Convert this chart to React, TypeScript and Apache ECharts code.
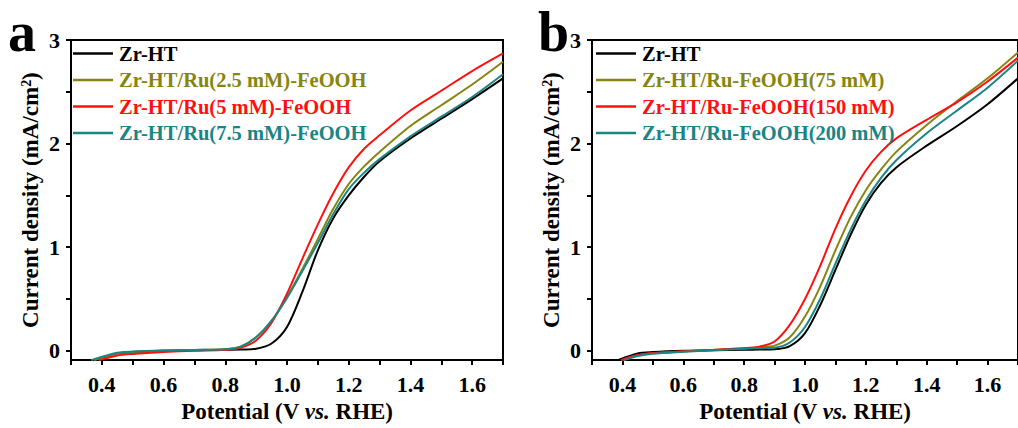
import React, { useEffect, useRef } from "react";
import * as echarts from "echarts";

// ---------- data ----------
const potentialGrid = [0.45, 0.5, 0.6, 0.7, 0.8, 0.85, 0.9, 0.95, 1.0, 1.05, 1.1, 1.15, 1.2, 1.25, 1.3, 1.4, 1.5, 1.6, 1.7];

// panel a
const namesA = ["Zr-HT", "Zr-HT/Ru(2.5 mM)-FeOOH", "Zr-HT/Ru(5 mM)-FeOOH", "Zr-HT/Ru(7.5 mM)-FeOOH"];
const startA = [0.372, 0.375, 0.39, 0.365];
const zrHtA = [-0.025, -0.012, 0, 0.005, 0.01, 0.012, 0.02, 0.07, 0.23, 0.57, 0.97, 1.28, 1.5, 1.68, 1.83, 2.05, 2.24, 2.43, 2.63];
const ru25A = [-0.025, -0.012, 0, 0.008, 0.015, 0.04, 0.13, 0.29, 0.52, 0.79, 1.08, 1.37, 1.61, 1.78, 1.92, 2.17, 2.37, 2.57, 2.79];
const ru5A = [-0.045, -0.03, -0.012, 0, 0.01, 0.03, 0.1, 0.27, 0.55, 0.89, 1.22, 1.52, 1.77, 1.95, 2.08, 2.32, 2.51, 2.7, 2.87];
const ru75A = [-0.02, -0.008, 0.002, 0.008, 0.015, 0.04, 0.13, 0.29, 0.51, 0.77, 1.04, 1.32, 1.56, 1.72, 1.85, 2.07, 2.26, 2.45, 2.67];

// panel b
const namesB = ["Zr-HT", "Zr-HT/Ru-FeOOH(75 mM)", "Zr-HT/Ru-FeOOH(150 mM)", "Zr-HT/Ru-FeOOH(200 mM)"];
const startB = [0.385, 0.4, 0.395, 0.405];
const zrHtB = [-0.025, -0.012, 0, 0.005, 0.01, 0.012, 0.015, 0.045, 0.17, 0.44, 0.78, 1.12, 1.41, 1.62, 1.77, 1.98, 2.17, 2.38, 2.63];
const fe75B = [-0.045, -0.025, -0.008, 0.008, 0.025, 0.035, 0.05, 0.13, 0.33, 0.62, 0.97, 1.29, 1.55, 1.75, 1.92, 2.18, 2.41, 2.63, 2.88];
const fe150B = [-0.04, -0.022, -0.005, 0.01, 0.025, 0.04, 0.09, 0.25, 0.5, 0.82, 1.18, 1.49, 1.74, 1.92, 2.05, 2.23, 2.4, 2.6, 2.83];
const fe200B = [-0.05, -0.028, -0.01, 0.005, 0.02, 0.025, 0.03, 0.08, 0.23, 0.5, 0.84, 1.17, 1.45, 1.67, 1.84, 2.1, 2.32, 2.54, 2.8];

const startCurrent = -0.09;
const colors = ["#000000", "#858510", "#ff1010", "#1a8585"];

const xTicks = [0.3, 0.4, 0.5, 0.6, 0.7, 0.8, 0.9, 1.0, 1.1, 1.2, 1.3, 1.4, 1.5, 1.6, 1.7];
const xLabels = [0.4, 0.6, 0.8, 1.0, 1.2, 1.4, 1.6];
const yTicks = [0, 0.5, 1, 1.5, 2, 2.5, 3];
const yLabels = [0, 1, 2, 3];

const FONT = "'Liberation Serif', 'Times New Roman', serif";

function pts(start: number, ys: number[]) {
  const out: number[][] = [[start, startCurrent]];
  potentialGrid.forEach((x, i) => out.push([x, ys[i]]));
  return out;
}

function xAxis(gridIndex: number) {
  return {
    type: "value",
    gridIndex,
    min: 0.3,
    max: 1.7,
    axisLine: { show: true, onZero: false, lineStyle: { color: "#000", width: 2 } },
    axisTick: { show: true, customValues: xTicks, length: 5, lineStyle: { color: "#000", width: 2 } },
    axisLabel: {
      customValues: xLabels,
      formatter: (v: number) => v.toFixed(1),
      color: "#000",
      fontFamily: FONT,
      fontWeight: "bold",
      fontSize: 22,
      margin: 13,
    },
    splitLine: { show: false },
    name: "Potential (V {it|vs.} RHE)",
    nameLocation: "middle",
    nameGap: 37,
    nameTextStyle: {
      color: "#000",
      fontFamily: FONT,
      fontWeight: "bold",
      fontSize: 23,
      rich: {
        it: { fontFamily: FONT, fontWeight: "bold", fontStyle: "italic", fontSize: 23, color: "#000" },
      },
    },
  };
}

function yAxis(gridIndex: number) {
  return {
    type: "value",
    gridIndex,
    min: -0.09,
    max: 3,
    axisLine: { show: true, onZero: false, lineStyle: { color: "#000", width: 2 } },
    axisTick: { show: true, customValues: yTicks, length: 5, lineStyle: { color: "#000", width: 2 } },
    axisLabel: {
      customValues: yLabels,
      color: "#000",
      fontFamily: FONT,
      fontWeight: "bold",
      fontSize: 22,
      margin: 11,
    },
    splitLine: { show: false },
    name: "Current density (mA/cm{sup|2})",
    nameLocation: "middle",
    nameRotate: 90,
    nameGap: 29,
    nameTextStyle: {
      color: "#000",
      fontFamily: FONT,
      fontWeight: "bold",
      fontSize: 23,
      rich: {
        sup: { fontFamily: FONT, fontWeight: "bold", fontSize: 14, color: "#000", verticalAlign: "top", padding: [0, 0, 8, 0] },
      },
    },
  };
}

function legend(left: number, names: string[]) {
  return {
    left,
    top: 43,
    padding: 0,
    orient: "vertical",
    icon: "rect",
    itemWidth: 40,
    itemHeight: 2.5,
    itemGap: 5.5,
    selectedMode: false,
    textStyle: { fontFamily: FONT, fontWeight: "bold", fontSize: 20.5, padding: [0, 0, 0, 1] },
    data: names.map((n, i) => ({ name: n, textStyle: { color: colors[i] } })),
  };
}

function line(name: string, data: number[][], color: string, idx: number) {
  return {
    type: "line",
    name,
    xAxisIndex: idx,
    yAxisIndex: idx,
    data,
    symbol: "none",
    smooth: 0.3,
    lineStyle: { color, width: 2 },
    itemStyle: { color },
    clip: true,
  };
}

export default function App() {
  const ref = useRef<HTMLDivElement>(null);
  useEffect(() => {
    if (!ref.current) return;
    const chart = echarts.init(ref.current, undefined, { renderer: "svg" });
    const seriesA = [zrHtA, ru25A, ru5A, ru75A];
    const seriesB = [zrHtB, fe75B, fe150B, fe200B];
    chart.setOption({
      animation: false,
      backgroundColor: "#fff",
      grid: [
        { left: 71, top: 40, width: 432, height: 323, show: true, borderColor: "#000", borderWidth: 2, backgroundColor: "transparent" },
        { left: 592, top: 40, width: 433, height: 323, show: true, borderColor: "#000", borderWidth: 2, backgroundColor: "transparent" },
      ],
      xAxis: [xAxis(0), xAxis(1)],
      yAxis: [yAxis(0), yAxis(1)],
      legend: [legend(73, namesA), legend(596, namesB)],
      graphic: [
        { type: "text", left: 8, top: 4, style: { text: "a", fontFamily: FONT, fontWeight: "bold", fontSize: 56, fill: "#000" } },
        { type: "text", left: 538, top: 4, style: { text: "b", fontFamily: FONT, fontWeight: "bold", fontSize: 56, fill: "#000" } },
      ],
      series: [
        ...seriesA.map((ys, i) => line(namesA[i], pts(startA[i], ys), colors[i], 0)),
        ...seriesB.map((ys, i) => line(namesB[i], pts(startB[i], ys), colors[i], 1)),
      ],
    });
    return () => chart.dispose();
  }, []);
  return <div ref={ref} style={{ position: "absolute", left: 0, top: 0, width: 1018, height: 428 }} />;
}
